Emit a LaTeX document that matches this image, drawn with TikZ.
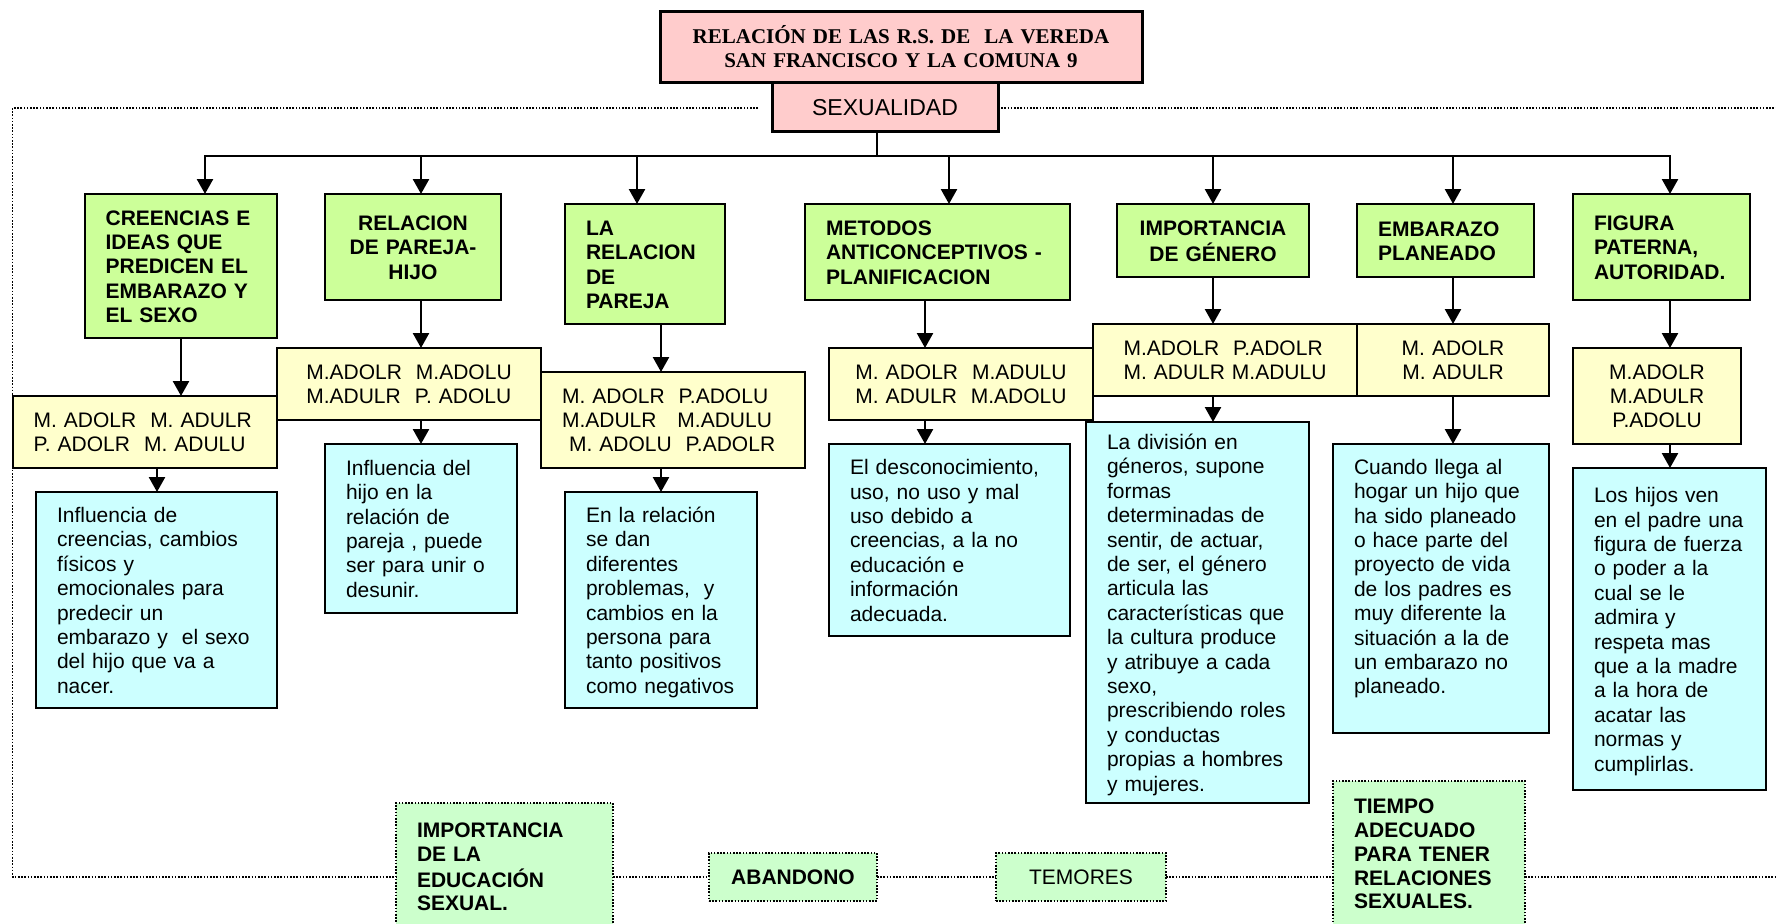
\documentclass[tikz,border=0pt]{standalone}
\usepackage{fontspec}
\setmainfont{Liberation Sans}
\newfontfamily\ttlfont{Liberation Serif}
\usetikzlibrary{arrows.meta}
\definecolor{grn}{HTML}{CCFF99}
\definecolor{yel}{HTML}{FFFFCC}
\definecolor{cyn}{HTML}{CCFFFF}
\definecolor{pnk}{HTML}{FFCCCC}
\definecolor{lgr}{HTML}{CCFFCC}
\newcommand\topgap{\rule{0pt}{\dimexpr\ht\strutbox+6pt\relax}}
\newcommand\myL[1]{\begin{tabular}{@{}l@{}}\topgap#1\end{tabular}}
\newcommand\myC[1]{\begin{tabular}{@{}c@{}}\topgap#1\end{tabular}}
\newcommand\bx[7]{%
  \pgfmathsetmacro\bxw{#5-(#3)}%
  \pgfmathsetmacro\bxh{#6-(#4)}%
  \pgfmathsetmacro\bxt{#5-(#3)-42}%
  \node[#1, anchor=north west, minimum width=\bxw pt, minimum height=\bxh pt, text width=\bxt pt] (#2) at (#3,#4) {#7};%
}
\tikzset{
  basebox/.style={draw, line width=2pt, inner xsep=21pt, inner ysep=0pt, outer sep=0pt},
  gbox/.style={basebox, fill=grn, font=\bfseries\fontsize{21}{24.3}\selectfont, align=left},
  gboxc/.style={gbox, align=center},
  ybox/.style={basebox, fill=yel, font=\fontsize{21}{24}\selectfont, align=center},
  yboxl/.style={ybox, align=left},
  cbox/.style={basebox, fill=cyn, font=\fontsize{21}{24.4}\selectfont, align=left},
  pbox/.style={basebox, line width=3pt, fill=pnk},
  dbox/.style={draw, line width=1.6pt, dash pattern=on 1.6pt off 1.6pt, fill=lgr, inner xsep=21pt, inner ysep=0pt, outer sep=0pt, font=\bfseries\fontsize{21}{23.8}\selectfont, align=left},
  dboxc/.style={dbox, align=center},
  arr/.style={line width=2.5pt, -{Triangle[width=16pt,length=15pt]}},
  busline/.style={line width=2.5pt},
  dotline/.style={line width=1.6pt, dash pattern=on 1.6pt off 1.6pt},
}
\begin{document}
\begin{tikzpicture}[x=1pt,y=-1pt]
\useasboundingbox (0,0) rectangle (1776,923);
\clip (0,0) rectangle (1776,923);

% title and root
\bx{pbox, font=\ttlfont\bfseries\fontsize{21}{24}\selectfont, align=center}{title}{660}{12}{1142}{83}{\myC{RELACIÓN DE LAS R.S. DE\ \ LA VEREDA\\SAN FRANCISCO Y LA COMUNA 9}}
\bx{pbox, font=\fontsize{23}{26}\selectfont, align=center}{sex}{772}{83}{998}{131}{\myC{SEXUALIDAD}}

% dotted frame
\coordinate (tl) at (12.5,108);
\coordinate (bl) at (12.5,877);
\coordinate (tr) at (1776,108);
\coordinate (br) at (1776,877);

% green boxes
\bx{gbox}{g1}{84.6}{194}{277}{338}{\myL{CREENCIAS E\\IDEAS QUE\\PREDICEN EL\\EMBARAZO Y\\EL SEXO}}
\bx{gboxc}{g2}{325}{194}{501}{300}{\myC{RELACION\\DE PAREJA-\\HIJO}}
\bx{gbox}{g3}{565}{204}{725}{324}{\myL{LA\\RELACION\\DE\\PAREJA}}
\bx{gbox}{g4}{805}{204}{1070}{300}{\myL{METODOS\\ANTICONCEPTIVOS -\\PLANIFICACION}}
\bx{gboxc}{g5}{1117}{204}{1309}{277}{\myC{IMPORTANCIA\\DE GÉNERO}}
\bx{gbox}{g6}{1357}{204}{1534}{277}{\myL{EMBARAZO\\PLANEADO}}
\bx{gbox}{g7}{1573}{194}{1750}{300}{\myL{FIGURA\\PATERNA,\\AUTORIDAD.}}

% yellow boxes
\bx{yboxl}{y1}{12.6}{396}{277}{468}{\myL{M. ADOLR\ \ M. ADULR\\P. ADOLR\ \ M. ADULU}}
\bx{ybox}{y2}{277}{348}{541}{420}{\myL{M.ADOLR\ \ M.ADOLU\\M.ADULR\ \ P. ADOLU}}
\bx{yboxl}{y3}{541}{372}{805}{468}{\myL{M. ADOLR\ \ P.ADOLU\\M.ADULR\ \ \ M.ADULU\\\ M. ADOLU\ \ P.ADOLR}}
\bx{ybox}{y4}{829}{348}{1093}{420}{\myL{M. ADOLR\ \ M.ADULU\\M. ADULR\ \ M.ADOLU}}
\bx{ybox}{y5}{1093}{324}{1357}{396}{\myL{M.ADOLR\ \ P.ADOLR\\M. ADULR M.ADULU}}
\bx{ybox}{y6}{1357}{324}{1549}{396}{\myC{M. ADOLR\\M. ADULR}}
\bx{ybox}{y7}{1573}{348}{1741}{444}{\myC{M.ADOLR\\M.ADULR\\P.ADOLU}}

% cyan boxes
\bx{cbox}{c1}{36}{492}{277}{708}{\myL{Influencia de\\creencias, cambios\\físicos y\\emocionales para\\predecir un\\embarazo y\ \ el sexo\\del hijo que va a\\nacer.}}
\bx{cbox}{c2}{325}{444}{517}{613}{\myL{Influencia del\\hijo en la\\relación de\\pareja , puede\\ser para unir o\\desunir.}}
\bx{cbox}{c3}{565}{492}{757}{708}{\myL{En la relación\\se dan\\diferentes\\problemas,\ \ y\\cambios en la\\persona para\\tanto positivos\\como negativos}}
\bx{cbox}{c4}{829}{444}{1070}{636}{\myL{El desconocimiento,\\uso, no uso y mal\\uso debido a\\creencias, a la no\\educación e\\información\\adecuada.}}
\bx{cbox}{c5}{1086}{422}{1309}{803}{\myL{La división en\\géneros, supone\\formas\\determinadas de\\sentir, de actuar,\\de ser, el género\\articula las\\características que\\la cultura produce\\y atribuye a cada\\sexo,\\prescribiendo roles\\y conductas\\propias a hombres\\y mujeres.}}
\bx{cbox}{c6}{1333}{444}{1549}{733}{\myL{Cuando llega al\\hogar un hijo que\\ha sido planeado\\o hace parte del\\proyecto de vida\\de los padres es\\muy diferente la\\situación a la de\\un embarazo no\\planeado.\\ ~}}
\bx{cbox}{c7}{1573}{468}{1766}{790}{\myL{Los hijos ven\\en el padre una\\figura de fuerza\\o poder a la\\cual se le\\admira y\\respeta mas\\que a la madre\\a la hora de\\acatar las\\normas y\\cumplirlas.}}

% bottom dotted boxes
\bx{dbox}{d1}{396}{803}{613}{930}{\myL{IMPORTANCIA\\DE LA\\EDUCACIÓN\\SEXUAL.}}
\bx{dboxc}{d2}{709}{853}{877}{901}{ABANDONO}
\bx{dboxc, font=\fontsize{21}{24}\selectfont}{d3}{996}{853}{1166}{901}{TEMORES}
\bx{dbox}{d4}{1333}{781}{1525}{926}{\myL{TIEMPO\\ADECUADO\\PARA TENER\\RELACIONES\\SEXUALES.}}

% dotted frame lines
\draw[dotline, shorten <=14pt] (sex.west |- tl) -- (tl) -- (bl) -- (bl -| d1.west);
\draw[dotline] (sex.east |- tr) -- (tr);
\draw[dotline] (bl -| d1.east) -- (bl -| d2.west);
\draw[dotline] (bl -| d2.east) -- (bl -| d3.west);
\draw[dotline] (bl -| d3.east) -- (bl -| d4.west);
\draw[dotline] (bl -| d4.east) -- (br);

% bus
\coordinate (a1) at (205,156);
\coordinate (a2) at (421,156);
\coordinate (a3) at (637,156);
\coordinate (a4) at (949,156);
\coordinate (a5) at (1213,156);
\coordinate (a6) at (1453,156);
\coordinate (a7) at (1670,156);
\coordinate (am) at (877,156);
\draw[busline] (sex.south -| am) -- (am);
\draw[busline, line cap=rect] (a1) -- (a7);
\foreach \i in {1,...,7}{\draw[arr] (a\i) -- (a\i |- g\i.north);}

% column arrows
\draw[arr] (g1.south -| 181,0) -- (y1.north -| 181,0);
\draw[arr] (y1.south -| 157,0) -- (c1.north -| 157,0);
\draw[arr] (g2.south -| 421,0) -- (y2.north -| 421,0);
\draw[arr] (y2.south -| 421,0) -- (c2.north -| 421,0);
\draw[arr] (g3.south -| 661,0) -- (y3.north -| 661,0);
\draw[arr] (y3.south -| 661,0) -- (c3.north -| 661,0);
\draw[arr] (g4.south -| 925,0) -- (y4.north -| 925,0);
\draw[arr] (y4.south -| 925,0) -- (c4.north -| 925,0);
\draw[arr] (g5.south -| 1213,0) -- (y5.north -| 1213,0);
\draw[arr] (y5.south -| 1213,0) -- (c5.north -| 1213,0);
\draw[arr] (g6.south -| 1453,0) -- (y6.north -| 1453,0);
\draw[arr] (y6.south -| 1453,0) -- (c6.north -| 1453,0);
\draw[arr] (g7.south -| 1670,0) -- (y7.north -| 1670,0);
\draw[arr] (y7.south -| 1670,0) -- (c7.north -| 1670,0);
\end{tikzpicture}
\end{document}
